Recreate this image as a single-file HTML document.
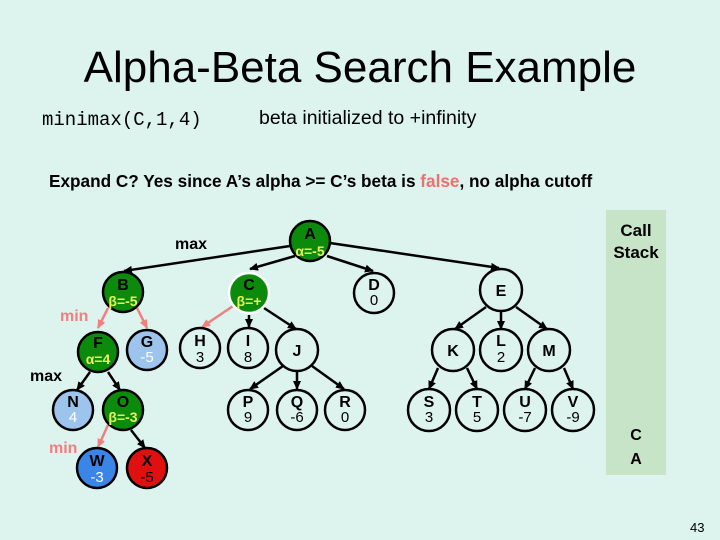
<!DOCTYPE html>
<html><head><style>
body{margin:0;width:720px;height:540px;background:#dcf3ee;overflow:hidden;position:relative;font-family:"Liberation Sans",sans-serif}
.t{position:absolute;white-space:nowrap}
</style></head><body>
<div class="t" style="left:0;width:720px;text-align:center;top:43px;font-size:44px;color:#000">Alpha-Beta Search Example</div>
<div class="t" style="left:42px;top:109px;font-family:'Liberation Mono',monospace;font-size:19px">minimax(C,1,4)</div>
<div class="t" style="left:259px;top:107px;font-size:19.5px">beta initialized to +infinity</div>
<div class="t" style="left:49px;top:171px;font-size:17.2px;font-weight:bold">Expand C? Yes since A’s alpha &gt;= C’s beta is <span style="color:#f07070">false</span>, no alpha cutoff</div>
<div style="position:absolute;left:606px;top:210px;width:60px;height:265px;background:#c8e4c8"></div>
<div class="t" style="left:606px;width:60px;text-align:center;top:220px;font-size:17px;font-weight:bold;line-height:22px">Call<br>Stack</div>
<div class="t" style="left:606px;width:60px;text-align:center;top:424px;font-size:16px;font-weight:bold;line-height:24px">C<br>A</div>
<div class="t" style="left:690px;top:520px;font-size:13px">43</div>
<svg width="720" height="540" style="position:absolute;left:0;top:0" font-family="Liberation Sans" font-weight="bold">
<defs>
<marker id="ab" markerUnits="userSpaceOnUse" markerWidth="9" markerHeight="8" refX="8" refY="4" orient="auto"><path d="M0,0L9,4L0,8z" fill="#000"/></marker>
<marker id="ap" markerUnits="userSpaceOnUse" markerWidth="9" markerHeight="8" refX="8" refY="4" orient="auto"><path d="M0,0L9,4L0,8z" fill="#f08080"/></marker>
</defs>
<g stroke="#000" stroke-width="2.5" marker-end="url(#ab)">
<line x1="290" y1="246" x2="124" y2="271"/>
<line x1="295" y1="256" x2="250" y2="269"/>
<line x1="327" y1="256" x2="373" y2="271"/>
<line x1="330" y1="243" x2="499" y2="268"/>
<line x1="249" y1="315" x2="249" y2="327"/>
<line x1="264" y1="308" x2="296" y2="329"/>
<line x1="90" y1="372" x2="77" y2="390"/>
<line x1="108" y1="372" x2="120" y2="390"/>
<line x1="131" y1="430" x2="145" y2="448"/>
<line x1="283" y1="366" x2="250" y2="389"/>
<line x1="297" y1="371" x2="297" y2="389"/>
<line x1="312" y1="366" x2="344" y2="389"/>
<line x1="486" y1="307" x2="455" y2="329"/>
<line x1="501" y1="311" x2="501" y2="329"/>
<line x1="516" y1="307" x2="547" y2="329"/>
<line x1="438" y1="368" x2="429" y2="389"/>
<line x1="467" y1="368" x2="477" y2="389"/>
<line x1="535" y1="368" x2="525" y2="389"/>
<line x1="564" y1="368" x2="573" y2="389"/>
</g>
<g stroke="#f08080" stroke-width="2.5" marker-end="url(#ap)">
<line x1="108" y1="308" x2="98" y2="328"/>
<line x1="137" y1="308" x2="147" y2="328"/>
<line x1="233" y1="306" x2="202" y2="327"/>
<line x1="108" y1="425" x2="98" y2="447"/>
</g>
<g stroke="#000" stroke-width="2.5">
<circle cx="310" cy="241" r="20" fill="#0b8a0b"/>
<circle cx="123" cy="292" r="20" fill="#0b8a0b"/>
<circle cx="249" cy="293" r="20" fill="#0b8a0b" stroke="#fff"/>
<circle cx="374" cy="293" r="20" fill="none"/>
<circle cx="501" cy="290" r="21" fill="none"/>
<circle cx="98" cy="352" r="20" fill="#0b8a0b"/>
<circle cx="147" cy="350" r="20" fill="#9cc4ec"/>
<circle cx="200" cy="348" r="20" fill="none"/>
<circle cx="248" cy="348" r="20" fill="none"/>
<circle cx="297" cy="350" r="21" fill="none"/>
<circle cx="453" cy="350" r="21" fill="none"/>
<circle cx="501" cy="350" r="21" fill="none"/>
<circle cx="549" cy="350" r="21" fill="none"/>
<circle cx="73" cy="410" r="20" fill="#9cc4ec"/>
<circle cx="123" cy="410" r="20" fill="#0b8a0b"/>
<circle cx="248" cy="410" r="20" fill="none"/>
<circle cx="297" cy="410" r="20" fill="none"/>
<circle cx="345" cy="410" r="20" fill="none"/>
<circle cx="429" cy="410" r="21" fill="none"/>
<circle cx="477" cy="410" r="21" fill="none"/>
<circle cx="525" cy="410" r="21" fill="none"/>
<circle cx="573" cy="410" r="21" fill="none"/>
<circle cx="97" cy="468" r="20" fill="#3a86e8"/>
<circle cx="147" cy="468" r="20" fill="#e01010"/>
</g>
<g font-size="16" text-anchor="middle">
<text x="310" y="239">A</text><text x="310" y="256" fill="#e8f060" font-size="14">α=-5</text>
<text x="123" y="290">B</text><text x="123" y="306" fill="#e8f060" font-size="14">β=-5</text>
<text x="249" y="290">C</text><text x="249" y="306" fill="#e8f060" font-size="14">β=+</text>
<text x="374" y="290">D</text><text x="374" y="305" font-weight="normal" font-size="15">0</text>
<text x="501" y="296">E</text>
<text x="98" y="348">F</text><text x="98" y="364" fill="#e8f060" font-size="14">α=4</text>
<text x="147" y="347">G</text><text x="147" y="362" fill="#fff" font-weight="normal" font-size="15">-5</text>
<text x="200" y="346">H</text><text x="200" y="362" font-weight="normal" font-size="15">3</text>
<text x="248" y="346">I</text><text x="248" y="362" font-weight="normal" font-size="15">8</text>
<text x="297" y="356">J</text>
<text x="453" y="356">K</text>
<text x="501" y="346">L</text><text x="501" y="362" font-weight="normal" font-size="15">2</text>
<text x="549" y="356">M</text>
<text x="73" y="407">N</text><text x="73" y="422" fill="#fff" font-weight="normal" font-size="15">4</text>
<text x="123" y="407">O</text><text x="123" y="422" fill="#e8f060" font-size="14">β=-3</text>
<text x="248" y="407">P</text><text x="248" y="422" font-weight="normal" font-size="15">9</text>
<text x="297" y="407">Q</text><text x="297" y="422" font-weight="normal" font-size="15">-6</text>
<text x="345" y="407">R</text><text x="345" y="422" font-weight="normal" font-size="15">0</text>
<text x="429" y="407">S</text><text x="429" y="422" font-weight="normal" font-size="15">3</text>
<text x="477" y="407">T</text><text x="477" y="422" font-weight="normal" font-size="15">5</text>
<text x="525" y="407">U</text><text x="525" y="422" font-weight="normal" font-size="15">-7</text>
<text x="573" y="407">V</text><text x="573" y="422" font-weight="normal" font-size="15">-9</text>
<text x="97" y="466">W</text><text x="97" y="482" fill="#fff" font-weight="normal" font-size="15">-3</text>
<text x="147" y="466">X</text><text x="147" y="482" font-weight="normal" font-size="15">-5</text>
</g>
<g font-size="16">
<text x="175" y="249">max</text>
<text x="60" y="321" fill="#f08080">min</text>
<text x="30" y="381">max</text>
<text x="49" y="453" fill="#f08080">min</text>
</g>
</svg>
</body></html>
